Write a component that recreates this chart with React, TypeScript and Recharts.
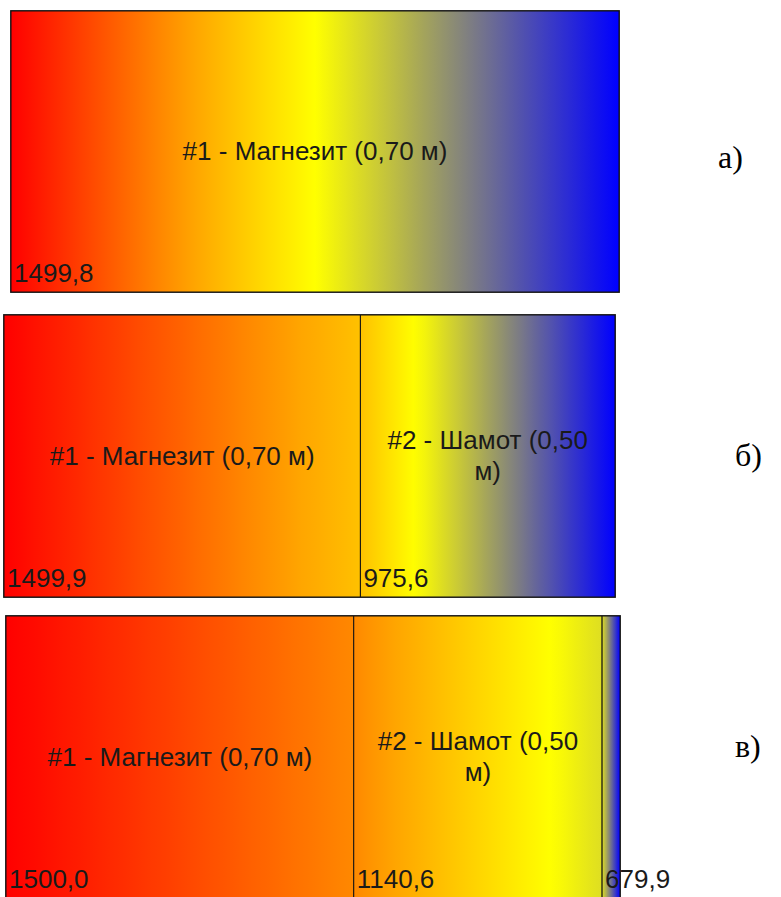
import React from 'react';
import { BarChart, Bar, XAxis, YAxis, LabelList, ReferenceArea } from 'recharts';

// Panel а) — one layer
const thicknessA = [0.7];
const namesA = [["#1 - Магнезит (0,70 м)"]];
const tempsA = [1499.8];
const outerTempA = 50; // estimated (not shown)

// Panel б) — two layers
const thicknessB = [0.7, 0.5];
const namesB = [["#1 - Магнезит (0,70 м)"], ["#2 - Шамот (0,50", "м)"]];
const tempsB = [1499.9, 975.6];
const outerTempB = 50;

// Panel в) — three layers
const thicknessC = [0.7, 0.5, 0.036];
const namesC = [["#1 - Магнезит (0,70 м)"], ["#2 - Шамот (0,50", "м)"], []];
const tempsC = [1500.0, 1140.6, 679.9];
const outerTempC = 50;

const panelLetters = ["а)", "б)", "в)"];

const CMAP: [number, number[]][] = [
  [0, [255, 0, 0]],
  [0.3, [255, 165, 0]],
  [0.5, [255, 255, 0]],
  [0.75, [128, 128, 128]],
  [1, [0, 0, 255]],
];

function cmap(n: number): string {
  const v = Math.max(0, Math.min(1, n));
  for (let i = 0; i < CMAP.length - 1; i++) {
    const [a, ca] = CMAP[i];
    const [b, cb] = CMAP[i + 1];
    if (v >= a && v <= b) {
      const f = (v - a) / (b - a);
      const c = ca.map((x, k) => Math.round(x + (cb[k] - x) * f));
      return `rgb(${c[0]},${c[1]},${c[2]})`;
    }
  }
  return 'rgb(0,0,255)';
}

const SANS = 'Liberation Sans, Arial, sans-serif';
const SERIF = 'Liberation Serif, Times New Roman, serif';
const fmt = (v: number) => v.toFixed(1).replace('.', ',');

type PanelProps = {
  id: string;
  thickness: number[];
  names: string[][];
  temps: number[];
  outerTemp: number;
  left: number;
  top: number;
  width: number;
  height: number;
};

function WallPanel({ id, thickness, names, temps, outerTemp, left, top, width, height }: PanelProps) {
  const row: Record<string, any> = { name: 'wall' };
  thickness.forEach((t, i) => (row['l' + i] = t));
  const data = [row];
  const total = thickness.reduce((a, b) => a + b, 0);
  const bounds = [...temps, outerTemp];
  const tMax = bounds[0];
  const tMin = outerTemp;
  const extraRight = 781 - left - width;

  const nameLabel = (p: any, lines: string[]) => {
    const vb = p.viewBox || p;
    const x = Number(vb.x), y = Number(vb.y), w = Number(vb.width), h = Number(vb.height);
    const cx = x + w / 2;
    const cy = y + h / 2;
    if (!lines || lines.length === 0) return null;
    const lh = 31;
    const start = cy + 8.5 - ((lines.length - 1) * lh) / 2;
    return (
      <text fontFamily={SANS} fontSize={26} fill="#1a1a1a" textAnchor="middle">
        {lines.map((l, k) => (
          <tspan key={k} x={cx} y={start + k * lh}>{l}</tspan>
        ))}
      </text>
    );
  };

  const tempLabel = (p: any, t: number) => {
    const vb = p.viewBox || p;
    const x = Number(vb.x), y = Number(vb.y), h = Number(vb.height);
    return (
      <text x={x + 3} y={y + h - 10} fontFamily={SANS} fontSize={26} fill="#1a1a1a">
        {fmt(t)}
      </text>
    );
  };

  return (
    <div style={{ position: 'absolute', left: left - 1, top: top - 1 }}>
      <BarChart
        width={width + 2 + extraRight}
        height={height + 2}
        data={data}
        layout="vertical"
        margin={{ top: 1, bottom: 1, left: 1, right: 1 + extraRight }}
        barCategoryGap={0}
        barGap={0}
      >
        <defs>
          {thickness.map((_, i) => {
            const T0 = bounds[i];
            const T1 = bounds[i + 1];
            const steps = 24;
            const stops = [];
            for (let k = 0; k <= steps; k++) {
              const f = k / steps;
              const T = T0 + f * (T1 - T0);
              const n = (tMax - T) / (tMax - tMin);
              stops.push(<stop key={k} offset={`${f * 100}%`} stopColor={cmap(n)} />);
            }
            return (
              <linearGradient key={i} id={`${id}-g${i}`} x1="0" y1="0" x2="1" y2="0">
                {stops}
              </linearGradient>
            );
          })}
        </defs>
        <XAxis type="number" hide domain={[0, total]} />
        <YAxis type="category" dataKey="name" hide />
        {thickness.map((_, i) => (
          <Bar
            key={i}
            dataKey={'l' + i}
            stackId="w"
            fill={`url(#${id}-g${i})`}
            stroke="#111"
            strokeWidth={1}
            isAnimationActive={false}
          >
            <LabelList content={(p: any) => nameLabel(p, names[i])} />
            <LabelList content={(p: any) => tempLabel(p, temps[i])} />
          </Bar>
        ))}
        <ReferenceArea x1={0} x2={total} fill="none" stroke="#3a3a3a" strokeWidth={2} ifOverflow="visible" />
      </BarChart>
    </div>
  );
}

export default function App() {
  return (
    <div style={{ position: 'absolute', left: 0, top: 0, width: 781, height: 897, overflow: 'hidden', background: '#fff' }}>
      <WallPanel id="pa" thickness={thicknessA} names={namesA} temps={tempsA} outerTemp={outerTempA} left={11} top={11} width={608} height={281} />
      <WallPanel id="pb" thickness={thicknessB} names={namesB} temps={tempsB} outerTemp={outerTempB} left={4} top={315} width={611} height={282} />
      <WallPanel id="pc" thickness={thicknessC} names={namesC} temps={tempsC} outerTemp={outerTempC} left={6} top={616} width={614} height={282} />
      <svg width={781} height={897} style={{ position: 'absolute', left: 0, top: 0, pointerEvents: 'none' }}>
        <text x={718} y={168} fontFamily={SERIF} fontSize={32} fill="#000">{panelLetters[0]}</text>
        <text x={735} y={466} fontFamily={SERIF} fontSize={32} fill="#000">{panelLetters[1]}</text>
        <text x={735} y={757} fontFamily={SERIF} fontSize={32} fill="#000">{panelLetters[2]}</text>
      </svg>
    </div>
  );
}
